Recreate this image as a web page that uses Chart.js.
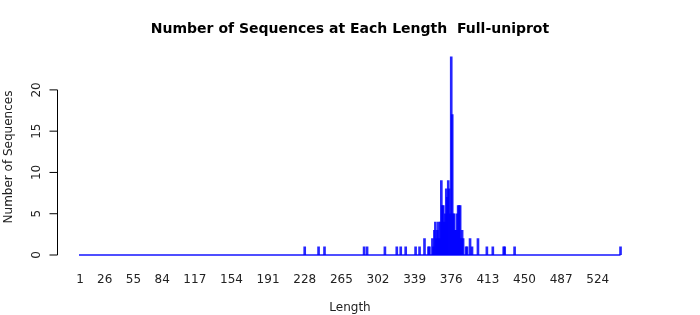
<!DOCTYPE html>
<html>
<head>
<meta charset="utf-8">
<script src="https://cdn.jsdelivr.net/npm/chart.js@4/dist/chart.umd.min.js"></script>
<style>
  html, body { margin: 0; padding: 0; background: #fff; }
</style>
</head>
<body>
<canvas id="myChart" width="700" height="315"></canvas>
<script>
// sequence lengths that have at least one sequence, and how many
const lengths = [228, 242, 248, 288, 291, 309, 321, 325, 330, 340,
                 344, 349, 353, 354, 357, 358, 359, 360, 361, 362,
                 363, 364, 365, 366, 367, 368, 369, 370, 371, 372,
                 373, 374, 375, 376, 377, 378, 379, 380, 381, 382,
                 383, 384, 385, 386, 387, 388, 391, 392, 395, 397,
                 403, 412, 418, 429, 430, 440, 547];
const counts = [1, 1, 1, 1, 1, 1, 1, 1, 1, 1,
                1, 2, 1, 1, 2, 1, 3, 4, 2, 3,
                4, 2, 4, 9, 6, 6, 4, 5, 8, 7,
                9, 8, 5, 24, 17, 5, 5, 3, 3, 5,
                6, 6, 6, 2, 3, 2, 1, 1, 2, 1,
                2, 1, 1, 1, 1, 1, 1];
// full span of lengths drawn (zero-height bars form the baseline)
const lengthRange = [0, 547];
const xTickLabels = [1, 26, 55, 84, 117, 154, 191, 228, 265, 302, 339, 376, 413, 450, 487, 524];
const yTickLabels = [0, 5, 10, 15, 20];

const FONT = "'DejaVu Sans', Verdana, sans-serif";

// y axis drawn like the original: line only from first to last tick, rotated labels
const yAxisPlugin = {
    id: 'yAxisPlugin',
    afterDraw(chart) {
        const ctx = chart.ctx;
        const y = chart.scales.y;
        const x0 = chart.chartArea.left + 0.5;
        ctx.save();
        ctx.strokeStyle = '#000';
        ctx.lineWidth = 1;
        ctx.beginPath();
        ctx.moveTo(x0, y.getPixelForValue(yTickLabels[0]));
        ctx.lineTo(x0, y.getPixelForValue(yTickLabels[yTickLabels.length - 1]));
        yTickLabels.forEach(v => {
            const py = y.getPixelForValue(v);
            ctx.moveTo(x0 - 8, py);
            ctx.lineTo(x0, py);
        });
        ctx.stroke();

        ctx.fillStyle = '#222';
        ctx.font = '12px ' + FONT;
        ctx.textAlign = 'center';
        ctx.textBaseline = 'middle';
        yTickLabels.forEach(v => {
            ctx.save();
            ctx.translate(37, y.getPixelForValue(v));
            ctx.rotate(-Math.PI / 2);
            ctx.fillText(String(v), 0, 0);
            ctx.restore();
        });

        ctx.save();
        ctx.translate(9, 157);
        ctx.rotate(-Math.PI / 2);
        ctx.fillText('Number of Sequences', 0, 0);
        ctx.restore();
        ctx.restore();
    }
};

const data = {
    datasets: [
        {
            type: 'bar',
            data: lengths.map((l, i) => ({ x: l, y: counts[i] })),
            backgroundColor: 'rgba(0, 0, 255, 0.85)',
            borderWidth: 0,
            barThickness: 2,
        },
        {
            type: 'line',
            data: lengthRange.map(l => ({ x: l, y: 0 })),
            borderColor: 'rgb(20, 20, 255)',
            borderWidth: 1.5,
            pointRadius: 0,
            clip: false,
        },
    ],
};

const config = {
    type: 'bar',
    data: data,
    options: {
        responsive: false,
        animation: false,
        devicePixelRatio: 1,
        layout: { padding: 0 },
        plugins: {
            legend: { display: false },
            tooltip: { enabled: false },
            title: {
                display: true,
                text: 'Number of Sequences at Each Length  Full-uniprot',
                color: '#000',
                font: { family: FONT, size: 14, weight: 'bold' },
                padding: { top: 20.6, bottom: 11.2 },
            },
        },
        scales: {
            x: {
                type: 'linear',
                offset: false,
                min: -22.2,
                max: 569.7,
                grid: { display: false, drawTicks: false },
                border: { display: false },
                afterBuildTicks: (scale) => {
                    scale.ticks = xTickLabels.map(v => ({ value: v }));
                },
                afterFit: (scale) => { scale.height = 60; },
                ticks: {
                    autoSkip: false,
                    maxRotation: 0,
                    padding: 18,
                    color: '#222',
                    font: { family: FONT, size: 12 },
                    callback: (v) => String(v),
                },
                title: {
                    display: true,
                    text: 'Length',
                    color: '#222',
                    font: { family: FONT, size: 12 },
                    padding: { top: 1, bottom: 0 },
                },
            },
            y: {
                min: 0,
                max: 25,
                grid: { display: false, drawTicks: false },
                border: { display: false },
                ticks: { display: false },
                afterBuildTicks: (scale) => {
                    scale.ticks = yTickLabels.map(v => ({ value: v }));
                },
                afterFit: (scale) => { scale.width = 57; },
            },
            // empty right axis, keeps the plot centred like the original
            yRight: {
                position: 'right',
                grid: { display: false, drawTicks: false },
                border: { display: false },
                ticks: { display: false },
                afterFit: (scale) => { scale.width = 57; },
            },
        },
    },
    plugins: [yAxisPlugin],
};

new Chart(document.getElementById('myChart'), config);
</script>
</body>
</html>
